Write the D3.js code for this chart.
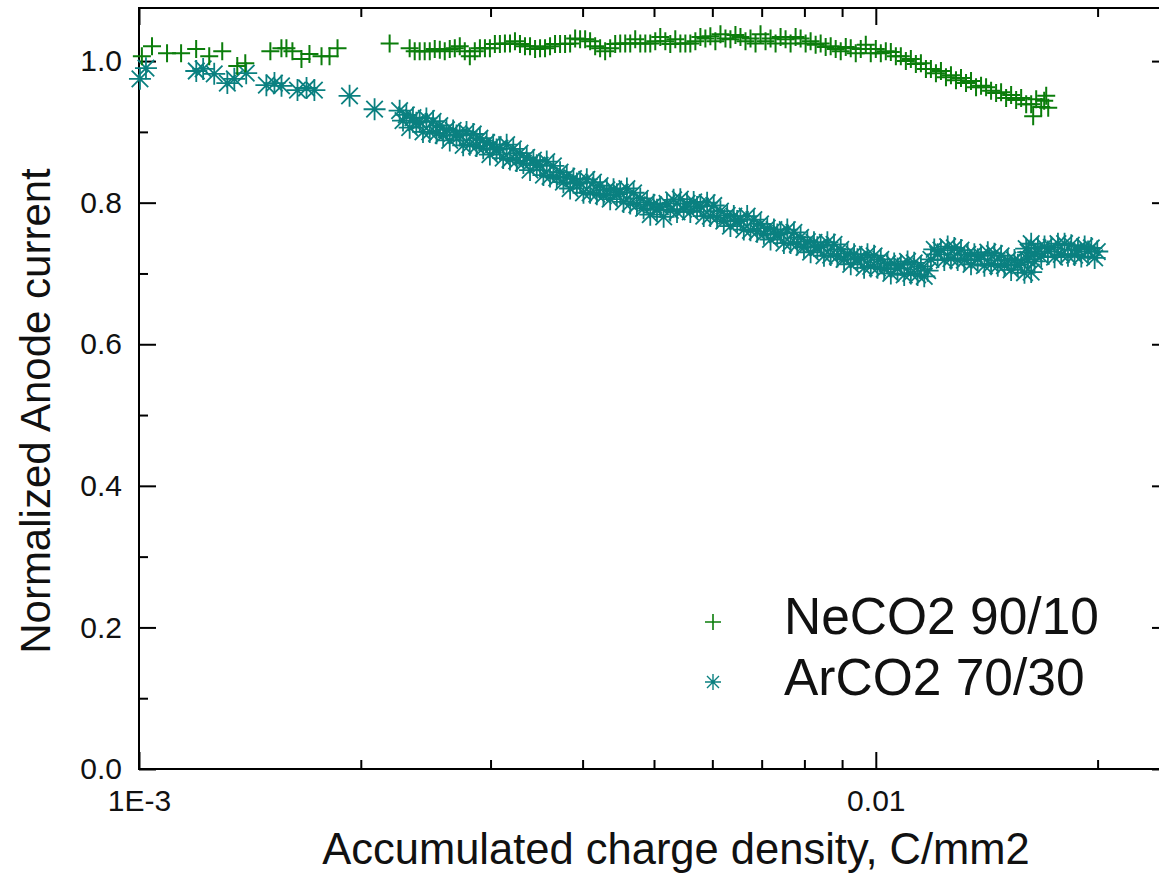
<!DOCTYPE html>
<html>
<head>
<meta charset="utf-8">
<script src="https://cdn.jsdelivr.net/npm/d3@7"></script>
<style>
  body { margin: 0; background: #fff; }
  text { font-family: "Liberation Sans", Arial, sans-serif; }
</style>
</head>
<body>
<div id="chart"></div>
<script>
// NeCO2 90/10 : accumulated charge (C/mm2) and normalized anode current
const neCharge = [
  1.009e-3, 1.0415e-3, 1.0916e-3, 1.1406e-3, 1.1956e-3, 1.2454e-3, 1.2971e-3, 1.3595e-3, 1.394e-3, 1.5076e-3,
  1.5606e-3, 1.5852e-3, 1.6152e-3, 1.6614e-3, 1.7035e-3, 1.769e-3, 1.8138e-3, 1.8597e-3, 2.1886e-3,
  2.330e-3, 2.367e-3, 2.404e-3, 2.442e-3, 2.481e-3, 2.520e-3, 2.560e-3, 2.600e-3, 2.641e-3, 2.683e-3,
  2.725e-3, 2.768e-3, 2.812e-3, 2.856e-3, 2.902e-3, 2.948e-3, 2.994e-3, 3.041e-3, 3.089e-3, 3.138e-3,
  3.188e-3, 3.238e-3, 3.289e-3, 3.341e-3, 3.394e-3, 3.448e-3, 3.502e-3, 3.557e-3, 3.613e-3, 3.670e-3,
  3.728e-3, 3.787e-3, 3.847e-3, 3.908e-3, 3.969e-3, 4.032e-3, 4.095e-3, 4.160e-3, 4.225e-3, 4.292e-3,
  4.360e-3, 4.429e-3, 4.499e-3, 4.570e-3, 4.642e-3, 4.715e-3, 4.790e-3, 4.866e-3, 4.942e-3, 5.020e-3,
  5.099e-3, 5.180e-3, 5.261e-3, 5.344e-3, 5.429e-3, 5.515e-3, 5.601e-3, 5.690e-3, 5.780e-3, 5.871e-3,
  5.963e-3, 6.057e-3, 6.154e-3, 6.251e-3, 6.349e-3, 6.449e-3, 6.551e-3, 6.655e-3, 6.760e-3, 6.867e-3,
  6.975e-3, 7.085e-3, 7.197e-3, 7.311e-3, 7.426e-3, 7.543e-3, 7.662e-3, 7.783e-3, 7.906e-3, 8.031e-3,
  8.157e-3, 8.286e-3, 8.417e-3, 8.550e-3, 8.685e-3, 8.822e-3, 8.962e-3, 9.104e-3, 9.247e-3, 9.393e-3,
  9.541e-3, 9.692e-3, 9.844e-3, 10.000e-3, 10.158e-3, 10.318e-3, 10.481e-3, 10.647e-3, 10.814e-3, 10.985e-3,
  11.158e-3, 11.334e-3, 11.514e-3, 11.696e-3, 11.880e-3, 12.068e-3, 12.258e-3, 12.452e-3, 12.648e-3, 12.848e-3,
  13.051e-3, 13.257e-3, 13.466e-3, 13.679e-3, 13.895e-3, 14.115e-3, 14.337e-3, 14.564e-3, 14.793e-3, 15.027e-3,
  15.264e-3, 15.505e-3, 15.750e-3, 15.999e-3, 16.251e-3, 16.508e-3, 16.768e-3, 17.033e-3, 16.353e-3, 17.140e-3,
  16.926e-3
];
const neCurrent = [
  1.007, 1.021, 1.011, 1.011, 1.017, 1.007, 1.014, 0.993, 0.997, 1.014,
  1.018, 1.018, 1.014, 1.003, 1.010, 1.007, 1.007, 1.018, 1.025,
  1.018, 1.014, 1.014, 1.014, 1.014, 1.017, 1.016, 1.014, 1.017, 1.018,
  1.021, 1.014, 1.007, 1.014, 1.018, 1.018, 1.018, 1.024, 1.024, 1.025,
  1.025, 1.028, 1.024, 1.021, 1.021, 1.017, 1.018, 1.018, 1.021, 1.024,
  1.024, 1.024, 1.025, 1.032, 1.031, 1.031, 1.028, 1.021, 1.018, 1.014,
  1.018, 1.024, 1.025, 1.025, 1.025, 1.031, 1.025, 1.025, 1.025, 1.028,
  1.034, 1.028, 1.024, 1.031, 1.025, 1.025, 1.025, 1.028, 1.034, 1.032,
  1.035, 1.028, 1.038, 1.032, 1.031, 1.037, 1.034, 1.028, 1.032, 1.025,
  1.038, 1.028, 1.032, 1.025, 1.034, 1.031, 1.025, 1.034, 1.032, 1.025,
  1.028, 1.023, 1.025, 1.020, 1.021, 1.017, 1.014, 1.020, 1.018, 1.011,
  1.017, 1.023, 1.011, 1.017, 1.011, 1.014, 1.013, 1.007, 1.007, 1.000,
  1.003, 0.996, 0.997, 0.989, 0.989, 0.983, 0.986, 0.977, 0.980, 0.973,
  0.976, 0.969, 0.972, 0.963, 0.965, 0.963, 0.958, 0.955, 0.956, 0.948,
  0.952, 0.945, 0.948, 0.939, 0.939, 0.946, 0.935, 0.951, 0.922, 0.934,
  0.944
];

// ArCO2 70/30
const arCharge = [
  1.003e-3, 1.022e-3, 1.196e-3, 1.222e-3, 1.265e-3, 1.318e-3, 1.347e-3, 1.398e-3, 1.489e-3, 1.527e-3,
  1.561e-3, 1.641e-3, 1.688e-3, 1.730e-3, 1.931e-3, 2.088e-3,
  2.258e-3, 2.282e-3, 2.306e-3,  2.330e-3, 2.354e-3, 2.379e-3,  2.404e-3, 2.429e-3, 2.455e-3,
  2.481e-3, 2.507e-3, 2.534e-3,  2.560e-3, 2.587e-3, 2.614e-3,  2.641e-3, 2.669e-3, 2.697e-3,
  2.725e-3, 2.754e-3, 2.783e-3,  2.812e-3, 2.842e-3, 2.872e-3,  2.902e-3, 2.932e-3, 2.964e-3,
  2.994e-3, 3.025e-3, 3.057e-3,  3.089e-3, 3.121e-3, 3.155e-3,  3.188e-3, 3.221e-3, 3.256e-3,
  3.289e-3, 3.324e-3, 3.359e-3,  3.394e-3, 3.430e-3, 3.466e-3,  3.502e-3, 3.539e-3, 3.576e-3,
  3.613e-3, 3.651e-3, 3.690e-3,  3.728e-3, 3.767e-3, 3.807e-3,  3.847e-3, 3.887e-3, 3.929e-3,
  3.969e-3, 4.011e-3, 4.053e-3,  4.095e-3, 4.138e-3, 4.182e-3,  4.225e-3, 4.269e-3, 4.315e-3,
  4.360e-3, 4.406e-3, 4.452e-3,  4.499e-3, 4.546e-3, 4.594e-3,  4.642e-3, 4.691e-3, 4.740e-3,
  4.790e-3, 4.840e-3, 4.892e-3,  4.942e-3, 4.994e-3, 5.047e-3,  5.099e-3, 5.153e-3, 5.207e-3,
  5.261e-3, 5.316e-3, 5.373e-3,  5.429e-3, 5.486e-3, 5.544e-3,  5.601e-3, 5.660e-3, 5.720e-3,
  5.780e-3, 5.841e-3, 5.903e-3,  5.963e-3, 6.026e-3, 6.090e-3,  6.154e-3, 6.219e-3, 6.285e-3,
  6.349e-3, 6.416e-3, 6.484e-3,  6.551e-3, 6.620e-3, 6.690e-3,  6.760e-3, 6.831e-3, 6.903e-3,
  6.975e-3, 7.048e-3, 7.123e-3,  7.197e-3, 7.273e-3, 7.350e-3,  7.426e-3, 7.504e-3, 7.584e-3,
  7.662e-3, 7.742e-3, 7.825e-3,  7.906e-3, 7.989e-3, 8.074e-3,  8.157e-3, 8.243e-3, 8.330e-3,
  8.417e-3, 8.505e-3, 8.596e-3,  8.685e-3, 8.776e-3, 8.869e-3,  8.962e-3, 9.056e-3, 9.152e-3,
  9.247e-3, 9.344e-3, 9.443e-3,  9.541e-3, 9.641e-3, 9.743e-3,  9.844e-3, 9.947e-3, 10.053e-3,
  10.158e-3, 10.265e-3, 10.373e-3,  10.481e-3, 10.591e-3, 10.703e-3,  10.814e-3, 10.928e-3, 11.043e-3,
  11.158e-3, 11.275e-3, 11.395e-3,  11.514e-3, 11.635e-3, 11.758e-3,
  11.880e-3, 12.005e-3, 12.132e-3,  12.258e-3, 12.387e-3, 12.518e-3,  12.648e-3, 12.781e-3, 12.916e-3,
  13.051e-3, 13.188e-3, 13.328e-3,  13.466e-3, 13.607e-3, 13.751e-3,  13.895e-3, 14.041e-3, 14.190e-3,
  14.337e-3, 14.488e-3, 14.641e-3,  14.793e-3, 14.948e-3, 15.107e-3,  15.264e-3, 15.424e-3, 15.588e-3,
  15.750e-3, 15.915e-3, 16.084e-3,  16.251e-3, 16.422e-3,
  15.999e-3, 16.100e-3,
  16.251e-3, 16.422e-3, 16.596e-3,  16.768e-3, 16.944e-3, 17.124e-3,  17.302e-3, 17.484e-3, 17.669e-3,
  17.852e-3, 18.039e-3, 18.231e-3,  18.420e-3, 18.613e-3, 18.810e-3,  19.007e-3, 19.207e-3, 19.410e-3,
  19.611e-3, 19.817e-3, 19.980e-3
];
const arCurrent = [
  0.975, 0.990, 0.986, 0.989, 0.982, 0.969, 0.975, 0.983, 0.966, 0.969,
  0.965, 0.959, 0.962, 0.959, 0.951, 0.932,
  0.930, 0.916, 0.924,  0.906, 0.920, 0.913,  0.914, 0.900, 0.919,
  0.900, 0.915, 0.898,  0.909, 0.895, 0.903,  0.888, 0.902, 0.895,
  0.895, 0.881, 0.900,  0.882, 0.897, 0.880,  0.891, 0.877, 0.885,
  0.868, 0.882, 0.875,  0.877, 0.863, 0.882,  0.861, 0.876, 0.859,
  0.870, 0.856, 0.864,  0.846, 0.860, 0.853,  0.853, 0.839, 0.858,
  0.837, 0.852, 0.835,  0.843, 0.829, 0.837,  0.820, 0.834, 0.827,
  0.828, 0.814, 0.833,  0.814, 0.829, 0.812,  0.824, 0.810, 0.818,
  0.805, 0.819, 0.812,  0.815, 0.801, 0.820,  0.799, 0.814, 0.797,
  0.806, 0.792, 0.800,  0.783, 0.797, 0.790,  0.794, 0.780, 0.799,
  0.789, 0.804, 0.787,  0.805, 0.791, 0.799,  0.787, 0.801, 0.794,
  0.795, 0.781, 0.800,  0.781, 0.796, 0.779,  0.788, 0.774, 0.782,
  0.767, 0.781, 0.774,  0.776, 0.762, 0.781,  0.761, 0.776, 0.759,
  0.770, 0.756, 0.764,  0.748, 0.762, 0.755,  0.757, 0.743, 0.762,
  0.743, 0.758, 0.741,  0.751, 0.737, 0.745,  0.730, 0.744, 0.737,
  0.739, 0.725, 0.744,  0.726, 0.741, 0.724,  0.734, 0.720, 0.728,
  0.713, 0.727, 0.720,  0.722, 0.708, 0.727,  0.710, 0.725, 0.708,
  0.720, 0.706, 0.714,  0.700, 0.714, 0.707,  0.712, 0.698, 0.717,
  0.700, 0.715, 0.698,  0.710, 0.696, 0.704,
  0.720, 0.734, 0.727,  0.733, 0.719, 0.738,  0.721, 0.736, 0.719,
  0.733, 0.719, 0.727,  0.713, 0.727, 0.720,  0.725, 0.711, 0.730,
  0.713, 0.728, 0.711,  0.725, 0.711, 0.719,  0.705, 0.719, 0.712,
  0.715, 0.701, 0.720,  0.702, 0.717,
  0.735, 0.730,
  0.742, 0.728, 0.736,  0.724, 0.738, 0.731,  0.737, 0.723, 0.742,
  0.727, 0.742, 0.725,  0.740, 0.726, 0.734,  0.724, 0.738, 0.731,
  0.736, 0.722, 0.731
];

const seriesNames = ["NeCO2 90/10", "ArCO2 70/30"];
const seriesColors = ["#0b7d0b", "#0a8080"];

const xMajorTicks = [0.001, 0.01];
const xMajorLabels = ["1E-3", "0.01"];
const xMinorTicks = [0.002, 0.003, 0.004, 0.005, 0.006, 0.007, 0.008, 0.009, 0.02];
const yMajorTicks = [0, 0.2, 0.4, 0.6, 0.8, 1.0];
const yMinorTicks = [0.1, 0.3, 0.5, 0.7, 0.9];

const width = 1159, height = 885;
const plot = {left: 139, right: 1169, top: 8, bottom: 769};

const svg = d3.select("#chart")
  .append("svg")
  .attr("width", width)
  .attr("height", height)
  .attr("style", "background-color: white");

const x = d3.scaleLog()
  .domain([0.001, 0.025])
  .range([plot.left, plot.right]);

const y = d3.scaleLinear()
  .domain([0, 1.075])
  .range([plot.bottom, plot.top]);

// axes: ticks point inward, labels only on bottom and left
function styleAxis(g) {
  g.select(".domain").remove();
  g.selectAll(".tick line").attr("stroke", "#000").attr("stroke-width", 2);
  g.selectAll(".tick text")
    .attr("fill", "#111")
    .style("font-size", "30px")
    .style("font-family", '"Liberation Sans", Arial, sans-serif');
}

svg.append("g")
  .attr("transform", `translate(0, ${plot.bottom})`)
  .call(d3.axisBottom(x).tickValues(xMajorTicks)
    .tickFormat((d, i) => xMajorLabels[i])
    .tickSizeInner(-17).tickSizeOuter(0).tickPadding(21))
  .call(styleAxis);
svg.append("g")
  .attr("transform", `translate(0, ${plot.bottom})`)
  .call(d3.axisBottom(x).tickValues(xMinorTicks).tickFormat("")
    .tickSizeInner(-9).tickSizeOuter(0))
  .call(styleAxis);
svg.append("g")
  .attr("transform", `translate(0, ${plot.top})`)
  .call(d3.axisTop(x).tickValues(xMajorTicks).tickFormat("")
    .tickSizeInner(-17).tickSizeOuter(0))
  .call(styleAxis);
svg.append("g")
  .attr("transform", `translate(0, ${plot.top})`)
  .call(d3.axisTop(x).tickValues(xMinorTicks).tickFormat("")
    .tickSizeInner(-9).tickSizeOuter(0))
  .call(styleAxis);

svg.append("g")
  .attr("transform", `translate(${plot.left}, 0)`)
  .call(d3.axisLeft(y).tickValues(yMajorTicks)
    .tickFormat(d3.format(".1f"))
    .tickSizeInner(-17).tickSizeOuter(0).tickPadding(17))
  .call(styleAxis);
svg.append("g")
  .attr("transform", `translate(${plot.left}, 0)`)
  .call(d3.axisLeft(y).tickValues(yMinorTicks).tickFormat("")
    .tickSizeInner(-9).tickSizeOuter(0))
  .call(styleAxis);
svg.append("g")
  .attr("transform", `translate(${plot.right}, 0)`)
  .call(d3.axisRight(y).tickValues(yMajorTicks).tickFormat("")
    .tickSizeInner(-17).tickSizeOuter(0))
  .call(styleAxis);
svg.append("g")
  .attr("transform", `translate(${plot.right}, 0)`)
  .call(d3.axisRight(y).tickValues(yMinorTicks).tickFormat("")
    .tickSizeInner(-9).tickSizeOuter(0))
  .call(styleAxis);

// frame
svg.append("rect")
  .attr("x", plot.left)
  .attr("y", plot.top)
  .attr("width", plot.right - plot.left)
  .attr("height", plot.bottom - plot.top)
  .attr("fill", "none")
  .attr("stroke", "#000")
  .attr("stroke-width", 2);

// marker shapes
const plusPath = r => `M${-r},0H${r}M0,${-r}V${r}`;
const starPath = r => {
  const d = r * 0.75;
  return `M${-r},0H${r}M0,${-r}V${r}M${-d},${-d}L${d},${d}M${-d},${d}L${d},${-d}`;
};

const neData = d3.zip(neCharge, neCurrent);
const arData = d3.zip(arCharge, arCurrent);

svg.append("g")
  .selectAll("path")
  .data(arData)
  .join("path")
  .attr("transform", d => `translate(${x(d[0])}, ${y(d[1])})`)
  .attr("d", starPath(11))
  .attr("fill", "none")
  .attr("stroke", seriesColors[1])
  .attr("stroke-width", 1.8);

svg.append("g")
  .selectAll("path")
  .data(neData)
  .join("path")
  .attr("transform", d => `translate(${x(d[0])}, ${y(d[1])})`)
  .attr("d", plusPath(9))
  .attr("fill", "none")
  .attr("stroke", seriesColors[0])
  .attr("stroke-width", 2);

// legend
const legend = svg.append("g");
const legendRows = [
  {name: seriesNames[0], color: seriesColors[0], path: plusPath(8), sw: 1.6, my: 622, ty: 634},
  {name: seriesNames[1], color: seriesColors[1], path: starPath(8), sw: 1.4, my: 682, ty: 695}
];
legendRows.forEach(r => {
  legend.append("path")
    .attr("transform", `translate(713, ${r.my})`)
    .attr("d", r.path)
    .attr("fill", "none")
    .attr("stroke", r.color)
    .attr("stroke-width", r.sw);
  legend.append("text")
    .attr("x", 784)
    .attr("y", r.ty)
    .style("font-size", "51.5px")
    .attr("fill", "#111")
    .text(r.name);
});

// axis titles
svg.append("text")
  .attr("x", 676)
  .attr("y", 864)
  .attr("text-anchor", "middle")
  .style("font-size", "43.5px")
  .attr("fill", "#111")
  .text("Accumulated charge density, C/mm2");

svg.append("text")
  .attr("transform", "translate(50, 411) rotate(-90)")
  .attr("text-anchor", "middle")
  .style("font-size", "42px")
  .attr("fill", "#111")
  .text("Normalized Anode current");
</script>
</body>
</html>
